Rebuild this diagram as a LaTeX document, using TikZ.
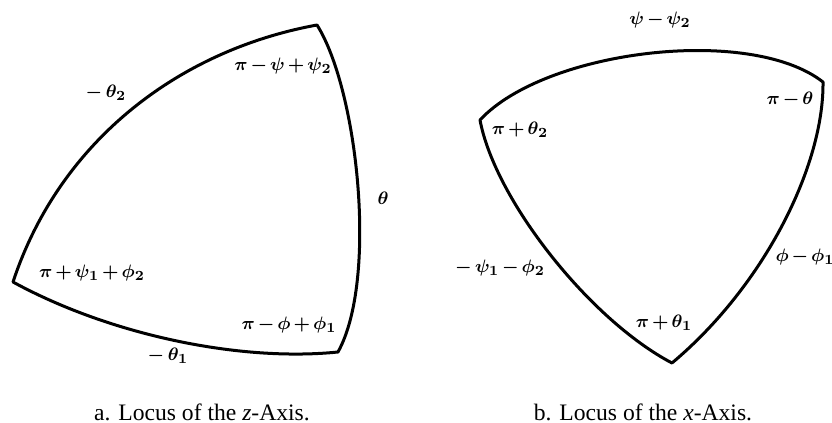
\documentclass[tikz,border=0pt]{standalone}
\usepackage{fontspec}
\setmainfont{Liberation Serif}
\newcommand\lblfont{\fontsize{9.5}{11}\selectfont\boldmath\medmuskip=2.5mu\relax}
\tikzset{
  locus/.style={line width=1.5pt, line join=round},
  lbl/.style={font=\lblfont, inner sep=0pt},
  captxt/.style={font=\fontsize{11.8}{14}\selectfont, inner sep=0pt}
}
\begin{document}
\begin{tikzpicture}[x=0.5pt,y=-0.5pt]
\useasboundingbox (0,0) rectangle (832,423);

% a. locus of the z-axis
\coordinate (zTop) at (317,25);
\coordinate (zLeft) at (13,282);
\coordinate (zRight) at (338,352);
\draw[locus] (zLeft) .. controls (60,140) and (180,50) .. (zTop)
  .. controls (358,90) and (378,280) .. (zRight)
  .. controls (240,362) and (110,335) .. cycle;

\node[lbl] (zTopLbl) at (283,66) {$\pi-\psi+\psi_2$};
\node[lbl] (zUpper) at (106,93) {$-\,\theta_2$};
\node[lbl] (zSide) at (383,198) {$\theta$};
\node[lbl] (zLeftLbl) at (92,273) {$\pi+\psi_1+\phi_2$};
\node[lbl] (zRightLbl) at (289,325) {$\pi-\phi+\phi_1$};
\node[lbl] (zLower) at (168,356) {$-\,\theta_1$};

% b. locus of the x-axis
\coordinate (xLeft) at (480,120);
\coordinate (xTop) at (823,82);
\coordinate (xBottom) at (672,363);
\draw[locus] (xLeft) .. controls (545,50) and (750,25) .. (xTop)
  .. controls (824,165) and (765,285) .. (xBottom)
  .. controls (590,320) and (495,200) .. cycle;

\node[lbl] (xUpper) at (660,20) {$\psi-\psi_2$};
\node[lbl] (xTopLbl) at (790,100) {$\pi-\theta$};
\node[lbl] (xLeftLbl) at (520,130) {$\pi+\theta_2$};
\node[lbl] (xSideL) at (500,268) {$-\,\psi_1-\phi_2$};
\node[lbl] (xSideR) at (805,257) {$\phi-\phi_1$};
\node[lbl] (xBottomLbl) at (664,323) {$\pi+\theta_1$};

% captions
\node[captxt] (capA) at (202,412) {a. Locus of the \textit{z}-Axis.};
\node[captxt] (capB) at (643,412) {b. Locus of the \textit{x}-Axis.};
\end{tikzpicture}
\end{document}
